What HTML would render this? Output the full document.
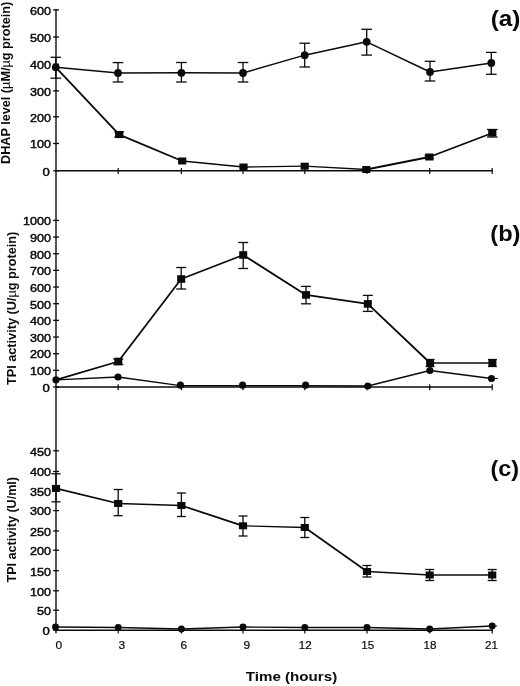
<!DOCTYPE html>
<html lang="en"><head><meta charset="utf-8"><title>Figure</title>
<style>html,body{margin:0;padding:0;background:#fff}svg{display:block}</style></head>
<body><svg width="520" height="686" viewBox="0 0 520 686">
<rect width="520" height="686" fill="#fff"/>
<line x1="56.00" y1="9.30" x2="56.00" y2="633.20" stroke="#0a0a0a" stroke-width="1.4"/>
<line x1="56.00" y1="170.80" x2="492.50" y2="170.80" stroke="#0a0a0a" stroke-width="1.4"/>
<line x1="118.20" y1="168.00" x2="118.20" y2="174.00" stroke="#0a0a0a" stroke-width="1.2"/>
<line x1="181.40" y1="168.00" x2="181.40" y2="174.00" stroke="#0a0a0a" stroke-width="1.2"/>
<line x1="243.00" y1="168.00" x2="243.00" y2="174.00" stroke="#0a0a0a" stroke-width="1.2"/>
<line x1="304.80" y1="168.00" x2="304.80" y2="174.00" stroke="#0a0a0a" stroke-width="1.2"/>
<line x1="367.00" y1="168.00" x2="367.00" y2="174.00" stroke="#0a0a0a" stroke-width="1.2"/>
<line x1="429.70" y1="168.00" x2="429.70" y2="174.00" stroke="#0a0a0a" stroke-width="1.2"/>
<line x1="492.20" y1="168.00" x2="492.20" y2="174.00" stroke="#0a0a0a" stroke-width="1.2"/>
<line x1="56.00" y1="387.00" x2="492.50" y2="387.00" stroke="#0a0a0a" stroke-width="1.4"/>
<line x1="118.20" y1="384.20" x2="118.20" y2="390.20" stroke="#0a0a0a" stroke-width="1.2"/>
<line x1="181.40" y1="384.20" x2="181.40" y2="390.20" stroke="#0a0a0a" stroke-width="1.2"/>
<line x1="243.00" y1="384.20" x2="243.00" y2="390.20" stroke="#0a0a0a" stroke-width="1.2"/>
<line x1="304.80" y1="384.20" x2="304.80" y2="390.20" stroke="#0a0a0a" stroke-width="1.2"/>
<line x1="367.00" y1="384.20" x2="367.00" y2="390.20" stroke="#0a0a0a" stroke-width="1.2"/>
<line x1="429.70" y1="384.20" x2="429.70" y2="390.20" stroke="#0a0a0a" stroke-width="1.2"/>
<line x1="492.20" y1="384.20" x2="492.20" y2="390.20" stroke="#0a0a0a" stroke-width="1.2"/>
<line x1="56.00" y1="630.20" x2="492.50" y2="630.20" stroke="#0a0a0a" stroke-width="1.4"/>
<line x1="118.20" y1="627.40" x2="118.20" y2="633.40" stroke="#0a0a0a" stroke-width="1.2"/>
<line x1="181.40" y1="627.40" x2="181.40" y2="633.40" stroke="#0a0a0a" stroke-width="1.2"/>
<line x1="243.00" y1="627.40" x2="243.00" y2="633.40" stroke="#0a0a0a" stroke-width="1.2"/>
<line x1="304.80" y1="627.40" x2="304.80" y2="633.40" stroke="#0a0a0a" stroke-width="1.2"/>
<line x1="367.00" y1="627.40" x2="367.00" y2="633.40" stroke="#0a0a0a" stroke-width="1.2"/>
<line x1="429.70" y1="627.40" x2="429.70" y2="633.40" stroke="#0a0a0a" stroke-width="1.2"/>
<line x1="492.20" y1="627.40" x2="492.20" y2="633.40" stroke="#0a0a0a" stroke-width="1.2"/>
<line x1="53.10" y1="170.80" x2="59.00" y2="170.80" stroke="#0a0a0a" stroke-width="1.3"/>
<text x="49.90" y="175.60" text-anchor="end" font-size="11.7" font-family="Liberation Sans, Arial, Helvetica, sans-serif" textLength="7.30" lengthAdjust="spacingAndGlyphs" fill="#0a0a0a" stroke="#0a0a0a" stroke-width="0.45">0</text>
<line x1="53.10" y1="143.50" x2="59.00" y2="143.50" stroke="#0a0a0a" stroke-width="1.3"/>
<text x="50.90" y="148.30" text-anchor="end" font-size="11.7" font-family="Liberation Sans, Arial, Helvetica, sans-serif" textLength="21.00" lengthAdjust="spacingAndGlyphs" fill="#0a0a0a" stroke="#0a0a0a" stroke-width="0.45">100</text>
<line x1="53.10" y1="116.80" x2="59.00" y2="116.80" stroke="#0a0a0a" stroke-width="1.3"/>
<text x="50.90" y="121.60" text-anchor="end" font-size="11.7" font-family="Liberation Sans, Arial, Helvetica, sans-serif" textLength="21.00" lengthAdjust="spacingAndGlyphs" fill="#0a0a0a" stroke="#0a0a0a" stroke-width="0.45">200</text>
<line x1="53.10" y1="90.90" x2="59.00" y2="90.90" stroke="#0a0a0a" stroke-width="1.3"/>
<text x="50.90" y="95.70" text-anchor="end" font-size="11.7" font-family="Liberation Sans, Arial, Helvetica, sans-serif" textLength="21.00" lengthAdjust="spacingAndGlyphs" fill="#0a0a0a" stroke="#0a0a0a" stroke-width="0.45">300</text>
<line x1="53.10" y1="64.20" x2="59.00" y2="64.20" stroke="#0a0a0a" stroke-width="1.3"/>
<text x="50.90" y="69.00" text-anchor="end" font-size="11.7" font-family="Liberation Sans, Arial, Helvetica, sans-serif" textLength="21.00" lengthAdjust="spacingAndGlyphs" fill="#0a0a0a" stroke="#0a0a0a" stroke-width="0.45">400</text>
<line x1="53.10" y1="37.00" x2="59.00" y2="37.00" stroke="#0a0a0a" stroke-width="1.3"/>
<text x="50.90" y="41.80" text-anchor="end" font-size="11.7" font-family="Liberation Sans, Arial, Helvetica, sans-serif" textLength="21.00" lengthAdjust="spacingAndGlyphs" fill="#0a0a0a" stroke="#0a0a0a" stroke-width="0.45">500</text>
<line x1="53.10" y1="9.90" x2="59.00" y2="9.90" stroke="#0a0a0a" stroke-width="1.3"/>
<text x="50.90" y="14.70" text-anchor="end" font-size="11.7" font-family="Liberation Sans, Arial, Helvetica, sans-serif" textLength="21.00" lengthAdjust="spacingAndGlyphs" fill="#0a0a0a" stroke="#0a0a0a" stroke-width="0.45">600</text>
<line x1="53.10" y1="387.00" x2="59.00" y2="387.00" stroke="#0a0a0a" stroke-width="1.3"/>
<text x="49.90" y="391.80" text-anchor="end" font-size="11.7" font-family="Liberation Sans, Arial, Helvetica, sans-serif" textLength="7.30" lengthAdjust="spacingAndGlyphs" fill="#0a0a0a" stroke="#0a0a0a" stroke-width="0.45">0</text>
<line x1="53.10" y1="370.34" x2="59.00" y2="370.34" stroke="#0a0a0a" stroke-width="1.3"/>
<text x="50.90" y="375.14" text-anchor="end" font-size="11.7" font-family="Liberation Sans, Arial, Helvetica, sans-serif" textLength="21.00" lengthAdjust="spacingAndGlyphs" fill="#0a0a0a" stroke="#0a0a0a" stroke-width="0.45">100</text>
<line x1="53.10" y1="353.68" x2="59.00" y2="353.68" stroke="#0a0a0a" stroke-width="1.3"/>
<text x="50.90" y="358.48" text-anchor="end" font-size="11.7" font-family="Liberation Sans, Arial, Helvetica, sans-serif" textLength="21.00" lengthAdjust="spacingAndGlyphs" fill="#0a0a0a" stroke="#0a0a0a" stroke-width="0.45">200</text>
<line x1="53.10" y1="337.02" x2="59.00" y2="337.02" stroke="#0a0a0a" stroke-width="1.3"/>
<text x="50.90" y="341.82" text-anchor="end" font-size="11.7" font-family="Liberation Sans, Arial, Helvetica, sans-serif" textLength="21.00" lengthAdjust="spacingAndGlyphs" fill="#0a0a0a" stroke="#0a0a0a" stroke-width="0.45">300</text>
<line x1="53.10" y1="320.36" x2="59.00" y2="320.36" stroke="#0a0a0a" stroke-width="1.3"/>
<text x="50.90" y="325.16" text-anchor="end" font-size="11.7" font-family="Liberation Sans, Arial, Helvetica, sans-serif" textLength="21.00" lengthAdjust="spacingAndGlyphs" fill="#0a0a0a" stroke="#0a0a0a" stroke-width="0.45">400</text>
<line x1="53.10" y1="303.70" x2="59.00" y2="303.70" stroke="#0a0a0a" stroke-width="1.3"/>
<text x="50.90" y="308.50" text-anchor="end" font-size="11.7" font-family="Liberation Sans, Arial, Helvetica, sans-serif" textLength="21.00" lengthAdjust="spacingAndGlyphs" fill="#0a0a0a" stroke="#0a0a0a" stroke-width="0.45">500</text>
<line x1="53.10" y1="287.04" x2="59.00" y2="287.04" stroke="#0a0a0a" stroke-width="1.3"/>
<text x="50.90" y="291.84" text-anchor="end" font-size="11.7" font-family="Liberation Sans, Arial, Helvetica, sans-serif" textLength="21.00" lengthAdjust="spacingAndGlyphs" fill="#0a0a0a" stroke="#0a0a0a" stroke-width="0.45">600</text>
<line x1="53.10" y1="270.38" x2="59.00" y2="270.38" stroke="#0a0a0a" stroke-width="1.3"/>
<text x="50.90" y="275.18" text-anchor="end" font-size="11.7" font-family="Liberation Sans, Arial, Helvetica, sans-serif" textLength="21.00" lengthAdjust="spacingAndGlyphs" fill="#0a0a0a" stroke="#0a0a0a" stroke-width="0.45">700</text>
<line x1="53.10" y1="253.72" x2="59.00" y2="253.72" stroke="#0a0a0a" stroke-width="1.3"/>
<text x="50.90" y="258.52" text-anchor="end" font-size="11.7" font-family="Liberation Sans, Arial, Helvetica, sans-serif" textLength="21.00" lengthAdjust="spacingAndGlyphs" fill="#0a0a0a" stroke="#0a0a0a" stroke-width="0.45">800</text>
<line x1="53.10" y1="237.06" x2="59.00" y2="237.06" stroke="#0a0a0a" stroke-width="1.3"/>
<text x="50.90" y="241.86" text-anchor="end" font-size="11.7" font-family="Liberation Sans, Arial, Helvetica, sans-serif" textLength="21.00" lengthAdjust="spacingAndGlyphs" fill="#0a0a0a" stroke="#0a0a0a" stroke-width="0.45">900</text>
<line x1="53.10" y1="220.40" x2="59.00" y2="220.40" stroke="#0a0a0a" stroke-width="1.3"/>
<text x="50.90" y="225.20" text-anchor="end" font-size="11.7" font-family="Liberation Sans, Arial, Helvetica, sans-serif" textLength="28.00" lengthAdjust="spacingAndGlyphs" fill="#0a0a0a" stroke="#0a0a0a" stroke-width="0.45">1000</text>
<line x1="53.10" y1="630.20" x2="59.00" y2="630.20" stroke="#0a0a0a" stroke-width="1.3"/>
<text x="49.90" y="635.00" text-anchor="end" font-size="11.7" font-family="Liberation Sans, Arial, Helvetica, sans-serif" textLength="7.30" lengthAdjust="spacingAndGlyphs" fill="#0a0a0a" stroke="#0a0a0a" stroke-width="0.45">0</text>
<line x1="53.10" y1="610.20" x2="59.00" y2="610.20" stroke="#0a0a0a" stroke-width="1.3"/>
<text x="50.90" y="615.00" text-anchor="end" font-size="11.7" font-family="Liberation Sans, Arial, Helvetica, sans-serif" textLength="14.00" lengthAdjust="spacingAndGlyphs" fill="#0a0a0a" stroke="#0a0a0a" stroke-width="0.45">50</text>
<line x1="53.10" y1="590.80" x2="59.00" y2="590.80" stroke="#0a0a0a" stroke-width="1.3"/>
<text x="50.90" y="595.60" text-anchor="end" font-size="11.7" font-family="Liberation Sans, Arial, Helvetica, sans-serif" textLength="21.00" lengthAdjust="spacingAndGlyphs" fill="#0a0a0a" stroke="#0a0a0a" stroke-width="0.45">100</text>
<line x1="53.10" y1="570.70" x2="59.00" y2="570.70" stroke="#0a0a0a" stroke-width="1.3"/>
<text x="50.90" y="575.50" text-anchor="end" font-size="11.7" font-family="Liberation Sans, Arial, Helvetica, sans-serif" textLength="21.00" lengthAdjust="spacingAndGlyphs" fill="#0a0a0a" stroke="#0a0a0a" stroke-width="0.45">150</text>
<line x1="53.10" y1="550.20" x2="59.00" y2="550.20" stroke="#0a0a0a" stroke-width="1.3"/>
<text x="50.90" y="555.00" text-anchor="end" font-size="11.7" font-family="Liberation Sans, Arial, Helvetica, sans-serif" textLength="21.00" lengthAdjust="spacingAndGlyphs" fill="#0a0a0a" stroke="#0a0a0a" stroke-width="0.45">200</text>
<line x1="53.10" y1="531.00" x2="59.00" y2="531.00" stroke="#0a0a0a" stroke-width="1.3"/>
<text x="50.90" y="535.80" text-anchor="end" font-size="11.7" font-family="Liberation Sans, Arial, Helvetica, sans-serif" textLength="21.00" lengthAdjust="spacingAndGlyphs" fill="#0a0a0a" stroke="#0a0a0a" stroke-width="0.45">250</text>
<line x1="53.10" y1="510.60" x2="59.00" y2="510.60" stroke="#0a0a0a" stroke-width="1.3"/>
<text x="50.90" y="515.40" text-anchor="end" font-size="11.7" font-family="Liberation Sans, Arial, Helvetica, sans-serif" textLength="21.00" lengthAdjust="spacingAndGlyphs" fill="#0a0a0a" stroke="#0a0a0a" stroke-width="0.45">300</text>
<line x1="53.10" y1="491.00" x2="59.00" y2="491.00" stroke="#0a0a0a" stroke-width="1.3"/>
<text x="50.90" y="495.80" text-anchor="end" font-size="11.7" font-family="Liberation Sans, Arial, Helvetica, sans-serif" textLength="21.00" lengthAdjust="spacingAndGlyphs" fill="#0a0a0a" stroke="#0a0a0a" stroke-width="0.45">350</text>
<line x1="53.10" y1="471.50" x2="59.00" y2="471.50" stroke="#0a0a0a" stroke-width="1.3"/>
<text x="50.90" y="476.30" text-anchor="end" font-size="11.7" font-family="Liberation Sans, Arial, Helvetica, sans-serif" textLength="21.00" lengthAdjust="spacingAndGlyphs" fill="#0a0a0a" stroke="#0a0a0a" stroke-width="0.45">400</text>
<line x1="53.10" y1="450.80" x2="59.00" y2="450.80" stroke="#0a0a0a" stroke-width="1.3"/>
<text x="50.90" y="455.60" text-anchor="end" font-size="11.7" font-family="Liberation Sans, Arial, Helvetica, sans-serif" textLength="21.00" lengthAdjust="spacingAndGlyphs" fill="#0a0a0a" stroke="#0a0a0a" stroke-width="0.45">450</text>
<polyline fill="none" stroke="#0a0a0a" stroke-width="1.4" stroke-linejoin="round" points="55.80,67.30 118.00,73.00 181.40,72.80 243.00,73.00 304.70,55.20 366.70,41.80 430.00,72.00 491.30,63.00"/>
<line x1="55.80" y1="57.30" x2="55.80" y2="78.20" stroke="#0a0a0a" stroke-width="1.3"/>
<line x1="50.50" y1="57.30" x2="61.10" y2="57.30" stroke="#0a0a0a" stroke-width="1.3"/>
<line x1="50.50" y1="78.20" x2="61.10" y2="78.20" stroke="#0a0a0a" stroke-width="1.3"/>
<line x1="118.00" y1="62.60" x2="118.00" y2="82.00" stroke="#0a0a0a" stroke-width="1.3"/>
<line x1="112.70" y1="62.60" x2="123.30" y2="62.60" stroke="#0a0a0a" stroke-width="1.3"/>
<line x1="112.70" y1="82.00" x2="123.30" y2="82.00" stroke="#0a0a0a" stroke-width="1.3"/>
<line x1="181.40" y1="62.50" x2="181.40" y2="82.00" stroke="#0a0a0a" stroke-width="1.3"/>
<line x1="176.10" y1="62.50" x2="186.70" y2="62.50" stroke="#0a0a0a" stroke-width="1.3"/>
<line x1="176.10" y1="82.00" x2="186.70" y2="82.00" stroke="#0a0a0a" stroke-width="1.3"/>
<line x1="243.00" y1="62.50" x2="243.00" y2="82.00" stroke="#0a0a0a" stroke-width="1.3"/>
<line x1="237.70" y1="62.50" x2="248.30" y2="62.50" stroke="#0a0a0a" stroke-width="1.3"/>
<line x1="237.70" y1="82.00" x2="248.30" y2="82.00" stroke="#0a0a0a" stroke-width="1.3"/>
<line x1="304.70" y1="43.20" x2="304.70" y2="67.00" stroke="#0a0a0a" stroke-width="1.3"/>
<line x1="299.40" y1="43.20" x2="310.00" y2="43.20" stroke="#0a0a0a" stroke-width="1.3"/>
<line x1="299.40" y1="67.00" x2="310.00" y2="67.00" stroke="#0a0a0a" stroke-width="1.3"/>
<line x1="366.70" y1="29.30" x2="366.70" y2="55.10" stroke="#0a0a0a" stroke-width="1.3"/>
<line x1="361.40" y1="29.30" x2="372.00" y2="29.30" stroke="#0a0a0a" stroke-width="1.3"/>
<line x1="361.40" y1="55.10" x2="372.00" y2="55.10" stroke="#0a0a0a" stroke-width="1.3"/>
<line x1="430.00" y1="61.30" x2="430.00" y2="81.00" stroke="#0a0a0a" stroke-width="1.3"/>
<line x1="424.70" y1="61.30" x2="435.30" y2="61.30" stroke="#0a0a0a" stroke-width="1.3"/>
<line x1="424.70" y1="81.00" x2="435.30" y2="81.00" stroke="#0a0a0a" stroke-width="1.3"/>
<line x1="491.30" y1="52.40" x2="491.30" y2="74.30" stroke="#0a0a0a" stroke-width="1.3"/>
<line x1="486.00" y1="52.40" x2="496.60" y2="52.40" stroke="#0a0a0a" stroke-width="1.3"/>
<line x1="486.00" y1="74.30" x2="496.60" y2="74.30" stroke="#0a0a0a" stroke-width="1.3"/>
<circle cx="55.80" cy="67.30" r="3.9" fill="#0a0a0a"/>
<circle cx="118.00" cy="73.00" r="3.9" fill="#0a0a0a"/>
<circle cx="181.40" cy="72.80" r="3.9" fill="#0a0a0a"/>
<circle cx="243.00" cy="73.00" r="3.9" fill="#0a0a0a"/>
<circle cx="304.70" cy="55.20" r="3.9" fill="#0a0a0a"/>
<circle cx="366.70" cy="41.80" r="3.9" fill="#0a0a0a"/>
<circle cx="430.00" cy="72.00" r="3.9" fill="#0a0a0a"/>
<circle cx="491.30" cy="63.00" r="3.9" fill="#0a0a0a"/>
<polyline fill="none" stroke="#0a0a0a" stroke-width="1.8" stroke-linejoin="round" points="55.80,67.30 119.20,134.60"/>
<polyline fill="none" stroke="#0a0a0a" stroke-width="1.8" stroke-linejoin="round" points="119.20,134.60 182.20,161.00"/>
<polyline fill="none" stroke="#0a0a0a" stroke-width="1.3" stroke-linejoin="round" points="182.20,161.00 243.50,167.00"/>
<polyline fill="none" stroke="#0a0a0a" stroke-width="1.3" stroke-linejoin="round" points="243.50,167.00 304.70,166.20"/>
<polyline fill="none" stroke="#0a0a0a" stroke-width="1.3" stroke-linejoin="round" points="304.70,166.20 366.30,169.50"/>
<polyline fill="none" stroke="#0a0a0a" stroke-width="1.8" stroke-linejoin="round" points="366.30,169.50 429.30,157.00"/>
<polyline fill="none" stroke="#0a0a0a" stroke-width="1.8" stroke-linejoin="round" points="429.30,157.00 492.30,133.00"/>
<line x1="119.20" y1="132.00" x2="119.20" y2="137.00" stroke="#0a0a0a" stroke-width="1.3"/>
<line x1="114.30" y1="132.00" x2="124.10" y2="132.00" stroke="#0a0a0a" stroke-width="1.3"/>
<line x1="114.30" y1="137.00" x2="124.10" y2="137.00" stroke="#0a0a0a" stroke-width="1.3"/>
<line x1="492.30" y1="129.50" x2="492.30" y2="137.00" stroke="#0a0a0a" stroke-width="1.3"/>
<line x1="487.00" y1="129.50" x2="497.60" y2="129.50" stroke="#0a0a0a" stroke-width="1.3"/>
<line x1="487.00" y1="137.00" x2="497.60" y2="137.00" stroke="#0a0a0a" stroke-width="1.3"/>
<line x1="429.30" y1="155.50" x2="429.30" y2="158.50" stroke="#0a0a0a" stroke-width="1.3"/>
<line x1="424.60" y1="155.50" x2="434.00" y2="155.50" stroke="#0a0a0a" stroke-width="1.3"/>
<line x1="424.60" y1="158.50" x2="434.00" y2="158.50" stroke="#0a0a0a" stroke-width="1.3"/>
<rect x="115.10" y="131.10" width="8.2" height="7.0" fill="#0a0a0a"/>
<rect x="178.10" y="157.50" width="8.2" height="7.0" fill="#0a0a0a"/>
<rect x="239.40" y="163.50" width="8.2" height="7.0" fill="#0a0a0a"/>
<rect x="300.60" y="162.70" width="8.2" height="7.0" fill="#0a0a0a"/>
<rect x="362.20" y="166.00" width="8.2" height="7.0" fill="#0a0a0a"/>
<rect x="425.20" y="153.50" width="8.2" height="7.0" fill="#0a0a0a"/>
<rect x="488.20" y="129.50" width="8.2" height="7.0" fill="#0a0a0a"/>
<polyline fill="none" stroke="#0a0a0a" stroke-width="1.8" stroke-linejoin="round" points="56.00,379.80 118.30,361.50 181.20,279.00 243.20,255.00 306.00,294.90 367.80,303.90 430.10,363.00"/>
<line x1="430.10" y1="363.00" x2="492.40" y2="363.00" stroke="#0a0a0a" stroke-width="1.35"/>
<line x1="118.30" y1="359.00" x2="118.30" y2="364.50" stroke="#0a0a0a" stroke-width="1.3"/>
<line x1="113.30" y1="359.00" x2="123.30" y2="359.00" stroke="#0a0a0a" stroke-width="1.3"/>
<line x1="113.30" y1="364.50" x2="123.30" y2="364.50" stroke="#0a0a0a" stroke-width="1.3"/>
<line x1="181.20" y1="267.50" x2="181.20" y2="289.00" stroke="#0a0a0a" stroke-width="1.3"/>
<line x1="176.20" y1="267.50" x2="186.20" y2="267.50" stroke="#0a0a0a" stroke-width="1.3"/>
<line x1="176.20" y1="289.00" x2="186.20" y2="289.00" stroke="#0a0a0a" stroke-width="1.3"/>
<line x1="243.20" y1="242.50" x2="243.20" y2="268.50" stroke="#0a0a0a" stroke-width="1.3"/>
<line x1="238.20" y1="242.50" x2="248.20" y2="242.50" stroke="#0a0a0a" stroke-width="1.3"/>
<line x1="238.20" y1="268.50" x2="248.20" y2="268.50" stroke="#0a0a0a" stroke-width="1.3"/>
<line x1="306.00" y1="286.40" x2="306.00" y2="303.80" stroke="#0a0a0a" stroke-width="1.3"/>
<line x1="301.00" y1="286.40" x2="311.00" y2="286.40" stroke="#0a0a0a" stroke-width="1.3"/>
<line x1="301.00" y1="303.80" x2="311.00" y2="303.80" stroke="#0a0a0a" stroke-width="1.3"/>
<line x1="367.80" y1="295.40" x2="367.80" y2="311.40" stroke="#0a0a0a" stroke-width="1.3"/>
<line x1="362.80" y1="295.40" x2="372.80" y2="295.40" stroke="#0a0a0a" stroke-width="1.3"/>
<line x1="362.80" y1="311.40" x2="372.80" y2="311.40" stroke="#0a0a0a" stroke-width="1.3"/>
<line x1="430.10" y1="359.50" x2="430.10" y2="366.50" stroke="#0a0a0a" stroke-width="1.3"/>
<line x1="425.70" y1="359.50" x2="434.50" y2="359.50" stroke="#0a0a0a" stroke-width="1.3"/>
<line x1="425.70" y1="366.50" x2="434.50" y2="366.50" stroke="#0a0a0a" stroke-width="1.3"/>
<line x1="492.40" y1="359.50" x2="492.40" y2="366.50" stroke="#0a0a0a" stroke-width="1.3"/>
<line x1="488.00" y1="359.50" x2="496.80" y2="359.50" stroke="#0a0a0a" stroke-width="1.3"/>
<line x1="488.00" y1="366.50" x2="496.80" y2="366.50" stroke="#0a0a0a" stroke-width="1.3"/>
<rect x="114.30" y="357.70" width="8.0" height="7.6" fill="#0a0a0a"/>
<rect x="177.20" y="275.20" width="8.0" height="7.6" fill="#0a0a0a"/>
<rect x="239.20" y="251.20" width="8.0" height="7.6" fill="#0a0a0a"/>
<rect x="302.00" y="291.10" width="8.0" height="7.6" fill="#0a0a0a"/>
<rect x="363.80" y="300.10" width="8.0" height="7.6" fill="#0a0a0a"/>
<rect x="426.10" y="359.20" width="8.0" height="7.6" fill="#0a0a0a"/>
<rect x="488.40" y="359.20" width="8.0" height="7.6" fill="#0a0a0a"/>
<polyline fill="none" stroke="#0a0a0a" stroke-width="1.3" stroke-linejoin="round" points="56.00,379.80 118.00,377.00 180.40,385.60 242.60,385.60 305.60,385.60 367.80,386.00 429.90,370.50 491.50,378.50"/>
<line x1="491.50" y1="378.50" x2="497.80" y2="378.50" stroke="#0a0a0a" stroke-width="1.1"/>
<circle cx="56.00" cy="379.80" r="3.6" fill="#0a0a0a"/>
<circle cx="118.00" cy="377.00" r="3.6" fill="#0a0a0a"/>
<circle cx="180.40" cy="385.20" r="3.6" fill="#0a0a0a"/>
<circle cx="242.60" cy="385.20" r="3.6" fill="#0a0a0a"/>
<circle cx="305.60" cy="385.20" r="3.6" fill="#0a0a0a"/>
<circle cx="367.80" cy="386.00" r="3.6" fill="#0a0a0a"/>
<circle cx="429.90" cy="370.50" r="3.6" fill="#0a0a0a"/>
<circle cx="491.50" cy="378.50" r="3.6" fill="#0a0a0a"/>
<polyline fill="none" stroke="#0a0a0a" stroke-width="1.75" stroke-linejoin="round" points="56.00,488.40 118.20,503.50"/>
<polyline fill="none" stroke="#0a0a0a" stroke-width="1.35" stroke-linejoin="round" points="118.20,503.50 181.40,505.50"/>
<polyline fill="none" stroke="#0a0a0a" stroke-width="1.75" stroke-linejoin="round" points="181.40,505.50 243.00,525.80"/>
<polyline fill="none" stroke="#0a0a0a" stroke-width="1.35" stroke-linejoin="round" points="243.00,525.80 304.80,527.50"/>
<polyline fill="none" stroke="#0a0a0a" stroke-width="1.75" stroke-linejoin="round" points="304.80,527.50 367.00,571.50"/>
<polyline fill="none" stroke="#0a0a0a" stroke-width="1.35" stroke-linejoin="round" points="367.00,571.50 429.70,575.00"/>
<polyline fill="none" stroke="#0a0a0a" stroke-width="1.35" stroke-linejoin="round" points="429.70,575.00 492.20,575.00"/>
<line x1="56.00" y1="473.80" x2="56.00" y2="501.80" stroke="#0a0a0a" stroke-width="1.3"/>
<line x1="51.50" y1="473.80" x2="60.50" y2="473.80" stroke="#0a0a0a" stroke-width="1.3"/>
<line x1="51.50" y1="501.80" x2="60.50" y2="501.80" stroke="#0a0a0a" stroke-width="1.3"/>
<line x1="118.20" y1="489.50" x2="118.20" y2="515.70" stroke="#0a0a0a" stroke-width="1.3"/>
<line x1="113.70" y1="489.50" x2="122.70" y2="489.50" stroke="#0a0a0a" stroke-width="1.3"/>
<line x1="113.70" y1="515.70" x2="122.70" y2="515.70" stroke="#0a0a0a" stroke-width="1.3"/>
<line x1="181.40" y1="493.00" x2="181.40" y2="516.50" stroke="#0a0a0a" stroke-width="1.3"/>
<line x1="176.90" y1="493.00" x2="185.90" y2="493.00" stroke="#0a0a0a" stroke-width="1.3"/>
<line x1="176.90" y1="516.50" x2="185.90" y2="516.50" stroke="#0a0a0a" stroke-width="1.3"/>
<line x1="243.00" y1="516.00" x2="243.00" y2="536.00" stroke="#0a0a0a" stroke-width="1.3"/>
<line x1="238.50" y1="516.00" x2="247.50" y2="516.00" stroke="#0a0a0a" stroke-width="1.3"/>
<line x1="238.50" y1="536.00" x2="247.50" y2="536.00" stroke="#0a0a0a" stroke-width="1.3"/>
<line x1="304.80" y1="517.50" x2="304.80" y2="537.50" stroke="#0a0a0a" stroke-width="1.3"/>
<line x1="300.30" y1="517.50" x2="309.30" y2="517.50" stroke="#0a0a0a" stroke-width="1.3"/>
<line x1="300.30" y1="537.50" x2="309.30" y2="537.50" stroke="#0a0a0a" stroke-width="1.3"/>
<line x1="367.00" y1="565.50" x2="367.00" y2="577.00" stroke="#0a0a0a" stroke-width="1.3"/>
<line x1="362.50" y1="565.50" x2="371.50" y2="565.50" stroke="#0a0a0a" stroke-width="1.3"/>
<line x1="362.50" y1="577.00" x2="371.50" y2="577.00" stroke="#0a0a0a" stroke-width="1.3"/>
<line x1="429.70" y1="569.50" x2="429.70" y2="580.50" stroke="#0a0a0a" stroke-width="1.3"/>
<line x1="425.20" y1="569.50" x2="434.20" y2="569.50" stroke="#0a0a0a" stroke-width="1.3"/>
<line x1="425.20" y1="580.50" x2="434.20" y2="580.50" stroke="#0a0a0a" stroke-width="1.3"/>
<line x1="492.20" y1="569.50" x2="492.20" y2="580.50" stroke="#0a0a0a" stroke-width="1.3"/>
<line x1="487.70" y1="569.50" x2="496.70" y2="569.50" stroke="#0a0a0a" stroke-width="1.3"/>
<line x1="487.70" y1="580.50" x2="496.70" y2="580.50" stroke="#0a0a0a" stroke-width="1.3"/>
<rect x="51.90" y="484.90" width="8.2" height="7.0" fill="#0a0a0a"/>
<rect x="114.10" y="500.00" width="8.2" height="7.0" fill="#0a0a0a"/>
<rect x="177.30" y="502.00" width="8.2" height="7.0" fill="#0a0a0a"/>
<rect x="238.90" y="522.30" width="8.2" height="7.0" fill="#0a0a0a"/>
<rect x="300.70" y="524.00" width="8.2" height="7.0" fill="#0a0a0a"/>
<rect x="362.90" y="568.00" width="8.2" height="7.0" fill="#0a0a0a"/>
<rect x="425.60" y="571.50" width="8.2" height="7.0" fill="#0a0a0a"/>
<rect x="488.10" y="571.50" width="8.2" height="7.0" fill="#0a0a0a"/>
<polyline fill="none" stroke="#0a0a0a" stroke-width="1.3" stroke-linejoin="round" points="56.00,627.00 118.20,627.50 181.40,629.00 243.00,627.00 304.80,627.50 367.00,627.50 429.70,629.00 492.20,626.00"/>
<line x1="492.20" y1="626.00" x2="497.20" y2="626.00" stroke="#0a0a0a" stroke-width="1.0"/>
<circle cx="55.50" cy="627.00" r="3.45" fill="#0a0a0a"/>
<circle cx="118.20" cy="627.50" r="3.45" fill="#0a0a0a"/>
<circle cx="181.40" cy="629.00" r="3.45" fill="#0a0a0a"/>
<circle cx="243.00" cy="627.00" r="3.45" fill="#0a0a0a"/>
<circle cx="304.80" cy="627.50" r="3.45" fill="#0a0a0a"/>
<circle cx="367.00" cy="627.50" r="3.45" fill="#0a0a0a"/>
<circle cx="429.70" cy="629.00" r="3.45" fill="#0a0a0a"/>
<circle cx="492.20" cy="626.00" r="3.45" fill="#0a0a0a"/>
<text transform="translate(10.30,164.00) rotate(-90)" font-size="12.55" font-weight="bold" font-family="Liberation Sans, Arial, Helvetica, sans-serif" textLength="162.20" lengthAdjust="spacingAndGlyphs" fill="#0a0a0a">DHAP level (<tspan font-weight="normal">µ</tspan>M/<tspan font-weight="normal">µ</tspan>g protein)</text>
<text transform="translate(16.20,385.00) rotate(-90)" font-size="12.55" font-weight="bold" font-family="Liberation Sans, Arial, Helvetica, sans-serif" textLength="153.20" lengthAdjust="spacingAndGlyphs" fill="#0a0a0a">TPI activity (U/<tspan font-weight="normal">µ</tspan>g protein)</text>
<text transform="translate(16.20,582.50) rotate(-90)" font-size="12.55" font-weight="bold" font-family="Liberation Sans, Arial, Helvetica, sans-serif" textLength="105.50" lengthAdjust="spacingAndGlyphs" fill="#0a0a0a">TPI activity (U/ml)</text>
<text x="490.70" y="25.70" font-size="22.5" font-weight="bold" font-family="Liberation Sans, Arial, Helvetica, sans-serif" textLength="29.70" lengthAdjust="spacingAndGlyphs" fill="#0a0a0a">(a)</text>
<text x="490.30" y="240.50" font-size="22.5" font-weight="bold" font-family="Liberation Sans, Arial, Helvetica, sans-serif" textLength="30.20" lengthAdjust="spacingAndGlyphs" fill="#0a0a0a">(b)</text>
<text x="490.50" y="476.30" font-size="22.5" font-weight="bold" font-family="Liberation Sans, Arial, Helvetica, sans-serif" textLength="28.60" lengthAdjust="spacingAndGlyphs" fill="#0a0a0a">(c)</text>
<text x="58.90" y="648.60" text-anchor="middle" font-size="11.6" font-family="Liberation Sans, Arial, Helvetica, sans-serif" textLength="6.65" lengthAdjust="spacingAndGlyphs" fill="#0a0a0a" stroke="#0a0a0a" stroke-width="0.2">0</text>
<text x="121.90" y="648.60" text-anchor="middle" font-size="11.6" font-family="Liberation Sans, Arial, Helvetica, sans-serif" textLength="6.65" lengthAdjust="spacingAndGlyphs" fill="#0a0a0a" stroke="#0a0a0a" stroke-width="0.2">3</text>
<text x="183.90" y="648.60" text-anchor="middle" font-size="11.6" font-family="Liberation Sans, Arial, Helvetica, sans-serif" textLength="6.65" lengthAdjust="spacingAndGlyphs" fill="#0a0a0a" stroke="#0a0a0a" stroke-width="0.2">6</text>
<text x="246.80" y="648.60" text-anchor="middle" font-size="11.6" font-family="Liberation Sans, Arial, Helvetica, sans-serif" textLength="6.65" lengthAdjust="spacingAndGlyphs" fill="#0a0a0a" stroke="#0a0a0a" stroke-width="0.2">9</text>
<text x="305.20" y="648.60" text-anchor="middle" font-size="11.6" font-family="Liberation Sans, Arial, Helvetica, sans-serif" textLength="12.95" lengthAdjust="spacingAndGlyphs" fill="#0a0a0a" stroke="#0a0a0a" stroke-width="0.2">12</text>
<text x="367.70" y="648.60" text-anchor="middle" font-size="11.6" font-family="Liberation Sans, Arial, Helvetica, sans-serif" textLength="12.95" lengthAdjust="spacingAndGlyphs" fill="#0a0a0a" stroke="#0a0a0a" stroke-width="0.2">15</text>
<text x="429.90" y="648.60" text-anchor="middle" font-size="11.6" font-family="Liberation Sans, Arial, Helvetica, sans-serif" textLength="12.95" lengthAdjust="spacingAndGlyphs" fill="#0a0a0a" stroke="#0a0a0a" stroke-width="0.2">18</text>
<text x="491.50" y="648.60" text-anchor="middle" font-size="11.6" font-family="Liberation Sans, Arial, Helvetica, sans-serif" textLength="12.95" lengthAdjust="spacingAndGlyphs" fill="#0a0a0a" stroke="#0a0a0a" stroke-width="0.2">21</text>
<text x="245.8" y="681.1" font-size="13.2" font-weight="bold" font-family="Liberation Sans, Arial, Helvetica, sans-serif" textLength="91.4" lengthAdjust="spacingAndGlyphs" fill="#0a0a0a">Time (hours)</text>
</svg></body></html>
